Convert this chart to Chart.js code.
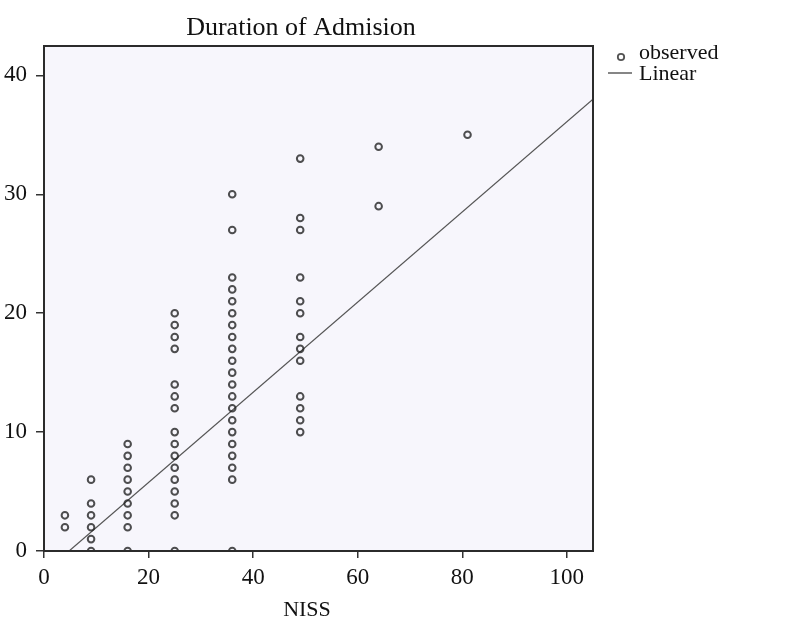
<!DOCTYPE html>
<html>
<head>
<meta charset="utf-8">
<script src="https://cdn.jsdelivr.net/npm/chart.js@4/dist/chart.umd.min.js"></script>
<style>
  html, body { margin: 0; padding: 0; background: #ffffff; }
  #wrap { position: relative; width: 794px; height: 637px; }
  canvas { display: block; }
</style>
</head>
<body>
<div id="wrap"><canvas id="c" width="794" height="637"></canvas></div>
<script>
// ---- data ----
const chartTitle = "Duration of Admision";
const xAxisTitle = "NISS";
const legendLabels = ["observed", "Linear"];
const nissGroups = [4, 9, 16, 25, 36, 49, 64, 81];
const dur4  = [3, 2];
const dur9  = [6, 4, 3, 2, 1, 0];
const dur16 = [9, 8, 7, 6, 5, 4, 3, 2, 0];
const dur25 = [20, 19, 18, 17, 14, 13, 12, 10, 9, 8, 7, 6, 5, 4, 3, 0];
const dur36 = [30, 27, 23, 22, 21, 20, 19, 18, 17, 16, 15, 14, 13, 12, 11, 10, 9, 8, 7, 6, 0];
const dur49 = [33, 28, 27, 23, 21, 20, 18, 17, 16, 13, 12, 11, 10];
const dur64 = [34, 29];
const dur81 = [35];
const durationsByGroup = [dur4, dur9, dur16, dur25, dur36, dur49, dur64, dur81];
// fitted linear line endpoints
const linearX = [4.8, 105];
const linearY = [0, 38];
const xTicks = [0, 20, 40, 60, 80, 100];
const yTicks = [0, 10, 20, 30, 40];

const observedPoints = [];
nissGroups.forEach((n, i) => durationsByGroup[i].forEach(d => observedPoints.push({x: n, y: d})));
const linearPoints = linearX.map((x, i) => ({x: x, y: linearY[i]}));

const FONT = "'Liberation Serif', 'DejaVu Serif', serif";

const frame = {
  id: 'frame',
  beforeDatasetsDraw(chart) {
    const {ctx, chartArea: a} = chart;
    ctx.save();
    ctx.fillStyle = '#f7f6fc';
    ctx.fillRect(a.left, a.top, a.right - a.left, a.bottom - a.top);
    ctx.restore();
  },
  afterDraw(chart) {
    const {ctx, chartArea: a} = chart;
    ctx.save();
    ctx.strokeStyle = '#2b2b2b';
    ctx.lineWidth = 2;
    ctx.strokeRect(a.left, a.top, a.right - a.left, a.bottom - a.top);
    ctx.fillStyle = '#111';
    ctx.textBaseline = 'alphabetic';
    // title
    ctx.font = "26px " + FONT;
    ctx.textAlign = 'center';
    ctx.fillText(chartTitle, 301, 35);
    // x axis title
    ctx.font = "22px " + FONT;
    ctx.fillText(xAxisTitle, 307, 616);
    // legend
    ctx.textAlign = 'left';
    ctx.font = "22px " + FONT;
    ctx.fillText(legendLabels[0], 639, 59);
    ctx.fillText(legendLabels[1], 639, 80);
    ctx.strokeStyle = 'rgba(40,40,40,0.8)';
    ctx.lineWidth = 1.8;
    ctx.beginPath();
    ctx.arc(621, 57, 3.2, 0, Math.PI * 2);
    ctx.stroke();
    ctx.strokeStyle = '#444';
    ctx.lineWidth = 1.3;
    ctx.beginPath();
    ctx.moveTo(608, 73);
    ctx.lineTo(632, 73);
    ctx.stroke();
    ctx.restore();
  }
};

new Chart(document.getElementById('c'), {
  type: 'scatter',
  data: {
    datasets: [
      {
        label: legendLabels[0],
        data: observedPoints,
        pointStyle: 'circle',
        pointRadius: 3.3,
        pointBorderWidth: 2,
        pointBackgroundColor: 'rgba(0,0,0,0)',
        pointBorderColor: 'rgba(30,30,30,0.78)',
        clip: 0,
        order: 1
      },
      {
        label: legendLabels[1],
        type: 'line',
        data: linearPoints,
        borderColor: '#555',
        borderWidth: 1.2,
        pointRadius: 0,
        fill: false,
        clip: 0,
        order: 2
      }
    ]
  },
  options: {
    responsive: false,
    animation: false,
    events: [],
    layout: { padding: { left: 0, top: 46, right: 201, bottom: 0 } },
    plugins: { legend: { display: false }, title: { display: false }, tooltip: { enabled: false } },
    scales: {
      x: {
        type: 'linear',
        min: 0, max: 105,
        afterFit(s) { s.height = 86; },
        afterBuildTicks(s) { s.ticks = xTicks.map(v => ({value: v})); },
        grid: { drawOnChartArea: false, drawTicks: true, tickLength: 7, color: '#333', lineWidth: 1.5 },
        border: { display: false },
        ticks: { color: '#111', font: { family: FONT, size: 23 }, padding: 6, maxRotation: 0 }
      },
      y: {
        type: 'linear',
        min: 0, max: 42.47,
        afterFit(s) { s.width = 44; },
        afterBuildTicks(s) { s.ticks = yTicks.map(v => ({value: v})); },
        grid: { drawOnChartArea: false, drawTicks: true, tickLength: 8, color: '#333', lineWidth: 1.5 },
        border: { display: false },
        ticks: { color: '#111', font: { family: FONT, size: 23 }, padding: 9 }
      }
    }
  },
  plugins: [frame]
});
</script>
</body>
</html>
